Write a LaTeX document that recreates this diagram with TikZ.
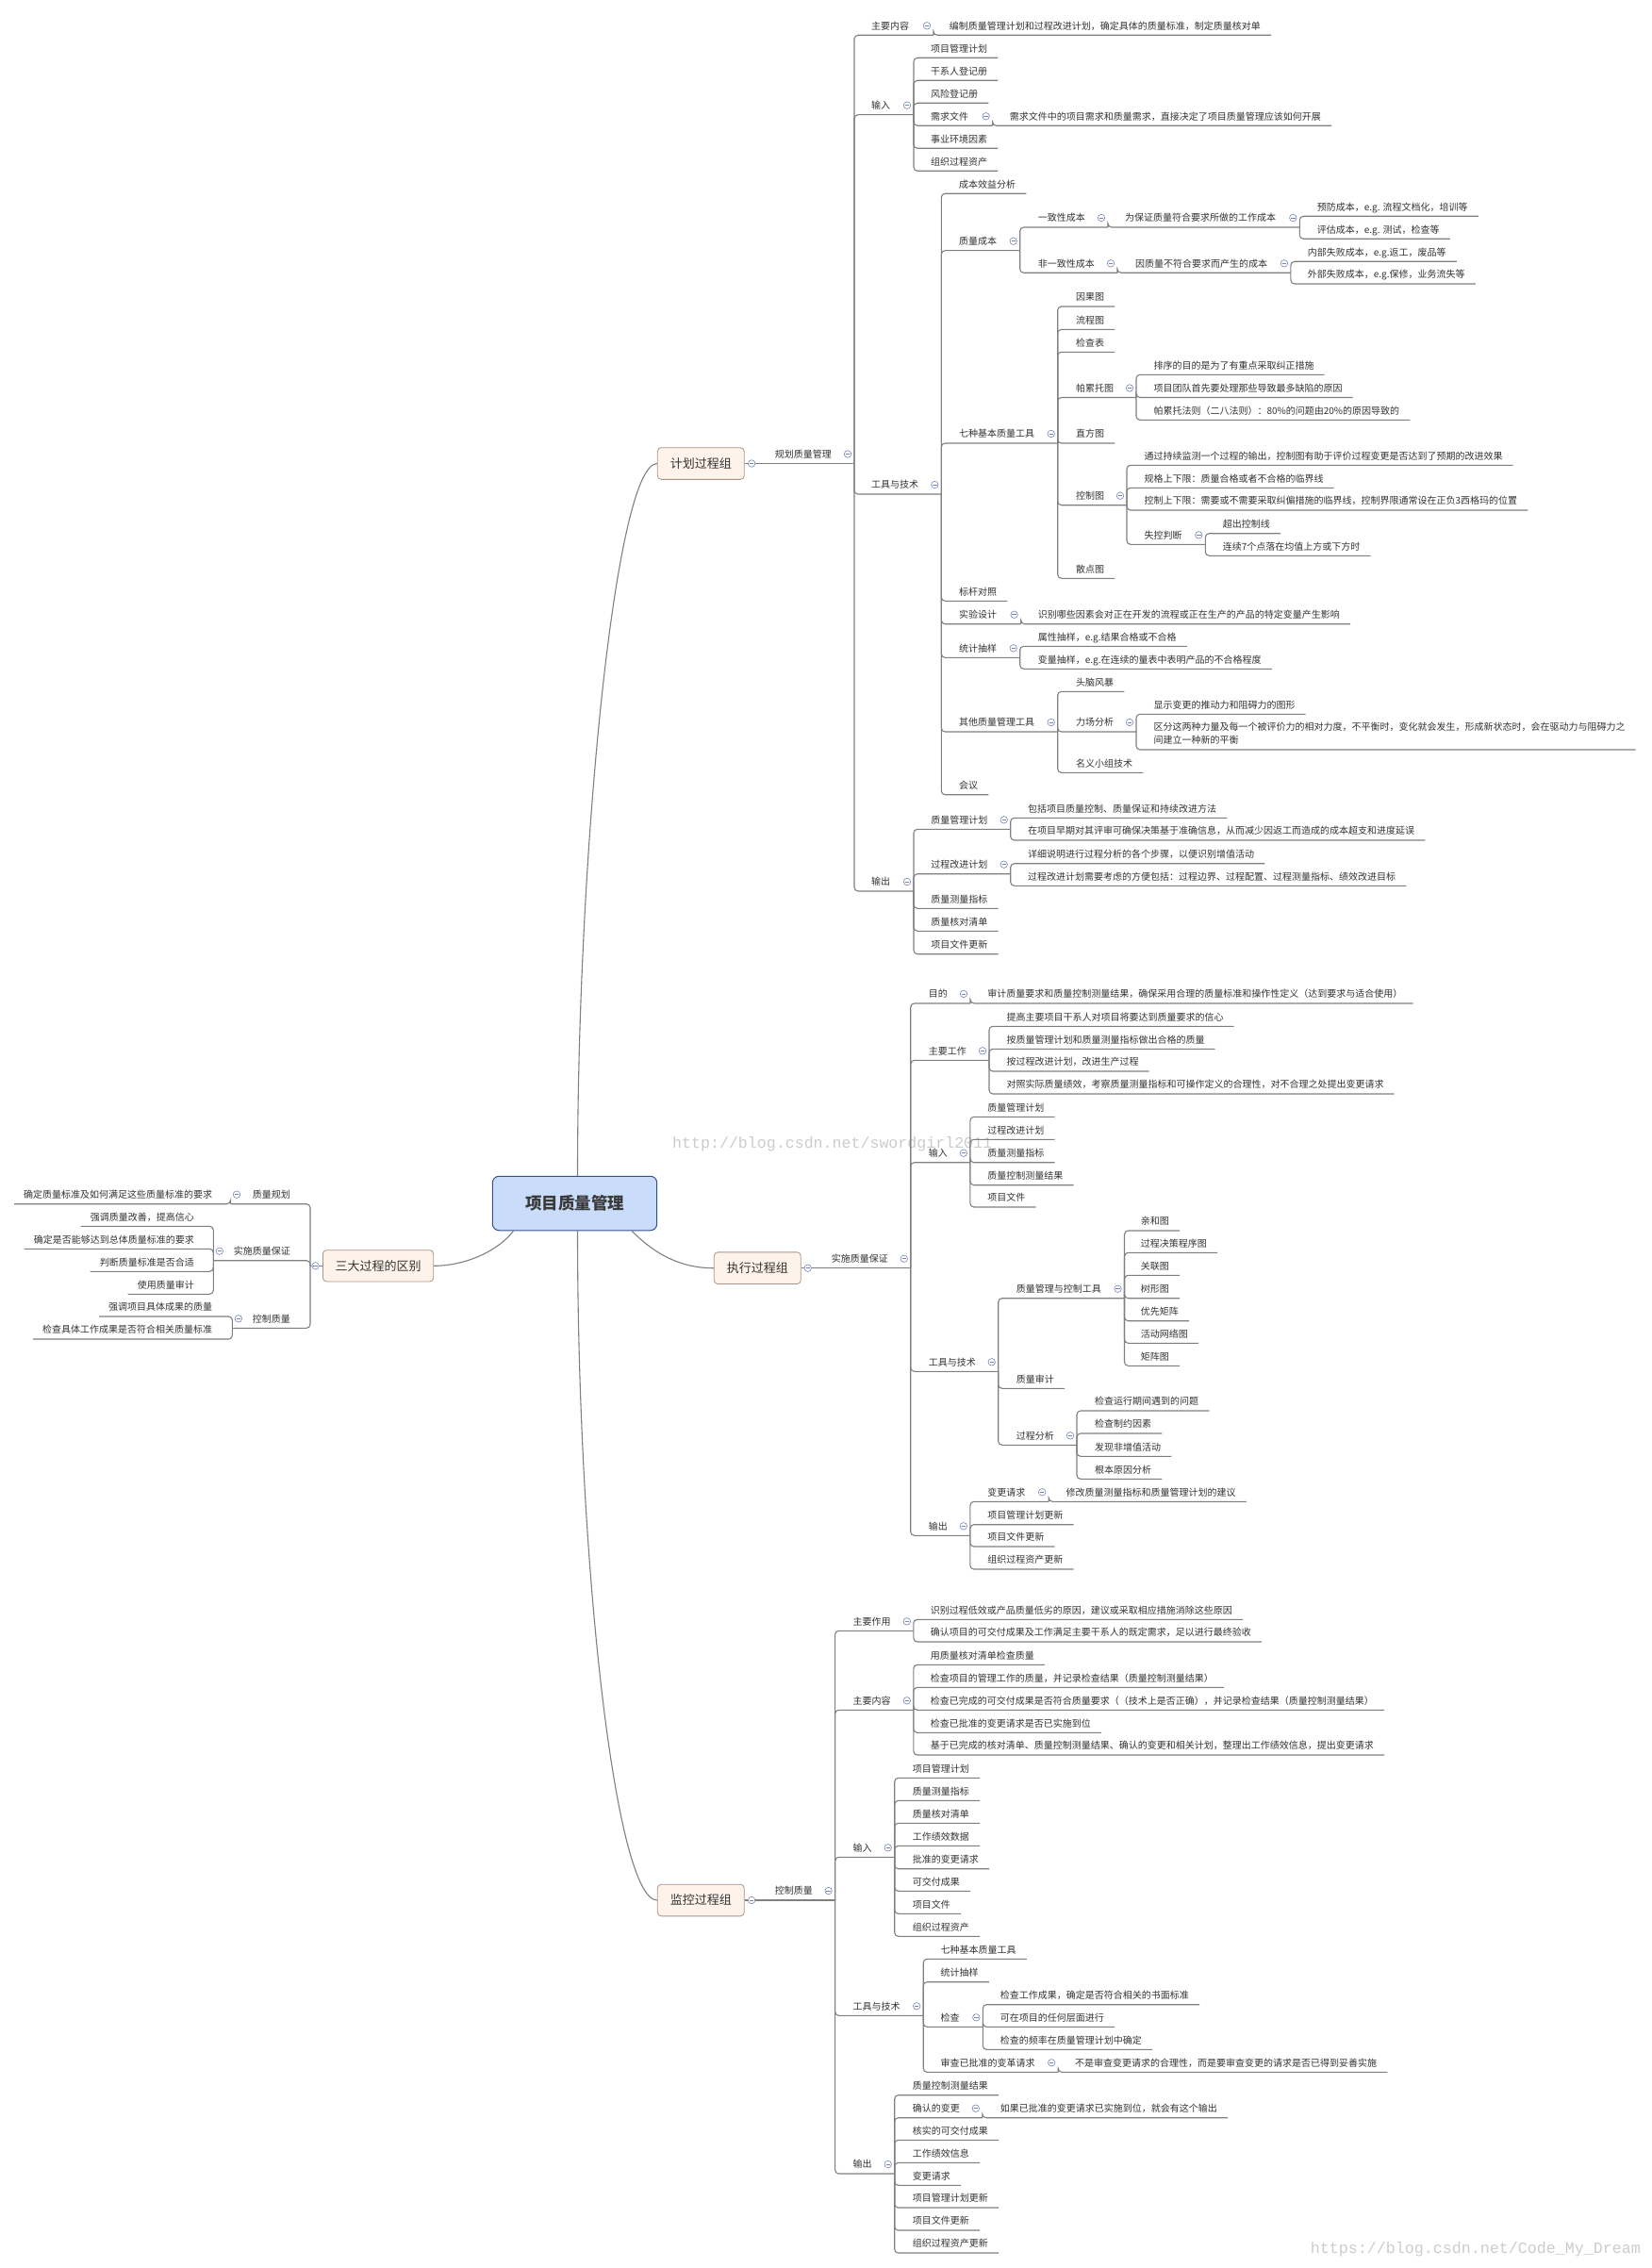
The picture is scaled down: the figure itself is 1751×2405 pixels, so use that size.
\documentclass[tikz,border=0pt]{standalone}
\usepackage{fontspec}
\setmainfont{Noto Sans CJK SC}
\newfontfamily\wmfont{Liberation Mono}
\definecolor{txt}{HTML}{333333}
\definecolor{txtb}{HTML}{3A3A3A}
\definecolor{lnc}{HTML}{808080}
\definecolor{colc}{HTML}{7283B8}
\definecolor{boxd}{HTML}{A8968A}
\definecolor{boxf}{HTML}{FEF3EA}
\definecolor{rootd}{HTML}{34508C}
\definecolor{rootf}{HTML}{C9DCFA}
\definecolor{wmc}{HTML}{CCCCCC}
\tikzset{
 tx/.style={anchor=base west, inner sep=0pt, yshift=6.2pt, font=\fontsize{10}{12}\selectfont, text=txt},
 txl/.style={tx, anchor=base east},
 cn/.style={draw=lnc, line width=1.1pt, rounded corners=4pt},
 cv/.style={draw=lnc, line width=1.1pt},
 col/.style={circle, draw=colc, fill=white, line width=0.6pt, minimum size=7.5pt, inner sep=0pt,
   path picture={\draw[colc, line width=0.6pt] ([xshift=-2.2pt]path picture bounding box.center) -- ([xshift=2.2pt]path picture bounding box.center);}},
 gbox/.style={draw=boxd, fill=boxf, rounded corners=4pt, line width=0.8pt, minimum width=92pt, minimum height=33.7pt, inner sep=0pt, font=\fontsize{13}{15}\selectfont, text=txt},
 rbox/.style={draw=rootd, fill=rootf, rounded corners=7pt, line width=1pt, minimum width=174.4pt, minimum height=57.5pt, inner sep=0pt, font=\bfseries\fontsize{17.5}{20}\selectfont, text=txtb},
 wm/.style={text=wmc, inner sep=0pt, anchor=west, font=\wmfont}
}
% right-side leaf: name, text x, underline y, text
\newcommand\Lf[4]{\node[tx] (#1) at (#2,#3) {#4};\coordinate (#1-e) at ([shift={(11pt,-6.2pt)}]#1.base east);}
% right-side parent: name, text x, underline y, spine x, text
\newcommand\Pn[5]{\node[tx] (#1) at (#2,#3) {#5};\coordinate (#1-e) at (#4,#3);\node[col] (#1-c) at (#4-7,#3-10) {};}
% left-side leaf and parent
\newcommand\LLf[4]{\node[txl] (#1) at (#2,#3) {#4};\coordinate (#1-e) at ([shift={(-10pt,-6.2pt)}]#1.base west);}
\newcommand\LPn[5]{\node[txl] (#1) at (#2,#3) {#5};\coordinate (#1-e) at (#4,#3);\node[col] (#1-c) at (#4+6.5,#3-10) {};}
\begin{document}
\begin{tikzpicture}[x=1pt,y=-1pt]
\useasboundingbox (0,0) rectangle (1751,2405);
\fill[white] (0,0) rectangle (1751,2405);
% watermarks
\node[wm] (wm1) at (713,1213) {\resizebox{339pt}{!}{http://blog.csdn.net/swordgirl2011}};
\node[wm] (wm2) at (1389.6,2385) {\resizebox{350pt}{!}{https://blog.csdn.net/Code\_My\_Dream}};
% central boxes
\node[rbox] (root) at (609.5,1276) {项目质量管理};
\node[gbox] (plan) at (743.3,491.5) {计划过程组};
\node[gbox] (exec) at (803.3,1344.7) {执行过程组};
\node[gbox] (mon) at (743.3,2015) {监控过程组};
\node[gbox, minimum width=117.4pt, minimum height=33.3pt] (sd) at (401.1,1342.3) {三大过程的区别};
\draw[cv] ([xshift=3pt]root.north) .. controls +(0,-348) and +(-44,0) .. (plan.west);
\draw[cv] ([xshift=3pt]root.south) .. controls +(0,356) and +(-44,0) .. (mon.west);
\draw[cv] ([xshift=60.5pt]root.south) .. controls +(20,20) and +(-40,0) .. (exec.west);
\draw[cv] ([xshift=-65pt]root.south) .. controls +(-15,20) and +(35,0) .. (sd.east);
% ===== planning =====
\Pn{gh}{821.7}{491.5}{906}{规划质量管理}
\Pn{zy}{924}{37.3}{990}{主要内容}
\Lf{zy1}{1006.7}{37.3}{编制质量管理计划和过程改进计划，确定具体的质量标准，制定质量核对单}
\Pn{sr}{924}{121.7}{969}{输入}
\Lf{sr1}{987}{61.3}{项目管理计划}
\Lf{sr2}{987}{85.3}{干系人登记册}
\Lf{sr3}{987}{109.3}{风险登记册}
\Pn{sr4}{987}{133.3}{1052.6}{需求文件}
\Lf{sr4a}{1070.6}{133.3}{需求文件中的项目需求和质量需求，直接决定了项目质量管理应该如何开展}
\Lf{sr5}{987}{157.3}{事业环境因素}
\Lf{sr6}{987}{181.3}{组织过程资产}
\Pn{gj}{924}{524}{998.3}{工具与技术}
\Lf{g1}{1017}{205.3}{成本效益分析}
\Pn{g2}{1017}{265.7}{1081.7}{质量成本}
\Pn{g2a}{1100.6}{241}{1175}{一致性成本}
\Pn{g2a1}{1192.8}{241}{1378.3}{为保证质量符合要求所做的工作成本}
\Lf{g2a1a}{1396.7}{229.3}{预防成本，e.g. 流程文档化，培训等}
\Lf{g2a1b}{1396.7}{253.3}{评估成本，e.g. 测试，检查等}
\Pn{g2b}{1100.6}{289.3}{1185}{非一致性成本}
\Pn{g2b1}{1203.9}{289.3}{1368.9}{因质量不符合要求而产生的成本}
\Lf{g2b1a}{1386.7}{277.3}{内部失败成本，e.g.返工，废品等}
\Lf{g2b1b}{1386.7}{301}{外部失败成本，e.g.保修，业务流失等}
\Pn{g3}{1017}{470}{1121.7}{七种基本质量工具}
\Lf{g3a}{1141}{325}{因果图}
\Lf{g3b}{1141}{349.3}{流程图}
\Lf{g3c}{1141}{373.3}{检查表}
\Pn{g3d}{1141}{421.5}{1205}{帕累托图}
\Lf{g3d1}{1223.3}{397.3}{排序的目的是为了有重点采取纠正措施}
\Lf{g3d2}{1223.3}{421.5}{项目团队首先要处理那些导致最多缺陷的原因}
\Lf{g3d3}{1223.3}{445.3}{帕累托法则（二八法则）：80\%的问题由20\%的原因导致的}
\Lf{g3e}{1141}{470}{直方图}
\Pn{g3f}{1141}{535.7}{1195}{控制图}
\Lf{g3f1}{1213.3}{493.3}{通过持续监测一个过程的输出，控制图有助于评价过程变更是否达到了预期的改进效果}
\Lf{g3f2}{1213.3}{517.3}{规格上下限：质量合格或者不合格的临界线}
\Lf{g3f3}{1213.3}{541}{控制上下限：需要或不需要采取纠偏措施的临界线，控制界限通常设在正负3西格玛的位置}
\Pn{g3f4}{1213.3}{577.3}{1278.3}{失控判断}
\Lf{g3f4a}{1296.7}{565.7}{超出控制线}
\Lf{g3f4b}{1296.7}{589.3}{连续7个点落在均值上方或下方时}
\Lf{g3g}{1141}{613.3}{散点图}
\Lf{g4}{1017}{637.3}{标杆对照}
\Pn{g5}{1017}{661.7}{1082.6}{实验设计}
\Lf{g5a}{1100.6}{661.7}{识别哪些因素会对正在开发的流程或正在生产的产品的特定变量产生影响}
\Pn{g6}{1017}{697.3}{1081.7}{统计抽样}
\Lf{g6a}{1100.6}{685.3}{属性抽样，e.g.结果合格或不合格}
\Lf{g6b}{1100.6}{709.3}{变量抽样，e.g.在连续的量表中表明产品的不合格程度}
\Pn{g7}{1017}{776}{1121.7}{其他质量管理工具}
\Lf{g7a}{1141}{733.3}{头脑风暴}
\Pn{g7b}{1141}{776}{1205}{力场分析}
\Lf{g7b1}{1223.3}{757.3}{显示变更的推动力和阻碍力的图形}
\node[tx] (g7b2x) at (1223.3,781) {区分这两种力量及每一个被评价力的相对力度，不平衡时，变化就会发生，形成新状态时，会在驱动力与阻碍力之};
\node[tx] (g7b2) at (1223.3,795) {间建立一种新的平衡};
\path (g7b2x.base east) ++(11pt,-20.2pt) coordinate (g7b2-e);
\Lf{g7c}{1141}{819.3}{名义小组技术}
\Lf{g8}{1017}{842.7}{会议}
\Pn{sc}{924}{945}{969}{输出}
\Pn{sc1}{987.2}{879.3}{1071.7}{质量管理计划}
\Lf{sc1a}{1090}{867.3}{包括项目质量控制、质量保证和持续改进方法}
\Lf{sc1b}{1090}{891}{在项目早期对其评审可确保决策基于准确信息，从而减少因返工而造成的成本超支和进度延误}
\Pn{sc2}{987.2}{926.7}{1071.7}{过程改进计划}
\Lf{sc2a}{1090}{915.7}{详细说明进行过程分析的各个步骤，以便识别增值活动}
\Lf{sc2b}{1090}{939.3}{过程改进计划需要考虑的方便包括：过程边界、过程配置、过程测量指标、绩效改进目标}
\Lf{sc3}{987.2}{963.3}{质量测量指标}
\Lf{sc4}{987.2}{987.3}{质量核对清单}
\Lf{sc5}{987.2}{1011.7}{项目文件更新}
% ===== executing =====
\Pn{ss}{881.7}{1344.7}{965.7}{实施质量保证}
\Pn{md}{984.7}{1064}{1029}{目的}
\Lf{md1}{1047.2}{1064}{审计质量要求和质量控制测量结果，确保采用合理的质量标准和操作性定义（达到要求与适合使用）}
\Pn{zg}{984.7}{1124.3}{1049}{主要工作}
\Lf{zg1}{1067.3}{1088.3}{提高主要项目干系人对项目将要达到质量要求的信心}
\Lf{zg2}{1067.3}{1112.3}{按质量管理计划和质量测量指标做出合格的质量}
\Lf{zg3}{1067.3}{1136}{按过程改进计划，改进生产过程}
\Lf{zg4}{1067.3}{1160}{对照实际质量绩效，考察质量测量指标和可操作定义的合理性，对不合理之处提出变更请求}
\Pn{ei}{984.7}{1232.7}{1028.9}{输入}
\Lf{ei1}{1047.2}{1184.3}{质量管理计划}
\Lf{ei2}{1047.2}{1208.3}{过程改进计划}
\Lf{ei3}{1047.2}{1232.7}{质量测量指标}
\Lf{ei4}{1047.2}{1256.7}{质量控制测量结果}
\Lf{ei5}{1047.2}{1280}{项目文件}
\Pn{et}{984.7}{1454.3}{1058.7}{工具与技术}
\Pn{et1}{1077.7}{1376.7}{1192.5}{质量管理与控制工具}
\Lf{et1a}{1209.7}{1305}{亲和图}
\Lf{et1b}{1209.7}{1328.3}{过程决策程序图}
\Lf{et1c}{1209.7}{1352.3}{关联图}
\Lf{et1d}{1209.7}{1376.7}{树形图}
\Lf{et1e}{1209.7}{1400.7}{优先矩阵}
\Lf{et1f}{1209.7}{1424.3}{活动网络图}
\Lf{et1g}{1209.7}{1448.3}{矩阵图}
\Lf{et2}{1077.7}{1472.3}{质量审计}
\Pn{et3}{1077.7}{1532.3}{1142}{过程分析}
\Lf{et3a}{1160.9}{1496}{检查运行期间遇到的问题}
\Lf{et3b}{1160.9}{1520}{检查制约因素}
\Lf{et3c}{1160.9}{1544.3}{发现非增值活动}
\Lf{et3d}{1160.9}{1568.3}{根本原因分析}
\Pn{eo}{984.7}{1628.3}{1028.9}{输出}
\Pn{eo1}{1047.2}{1592.3}{1112.2}{变更请求}
\Lf{eo1a}{1130.5}{1592.3}{修改质量测量指标和质量管理计划的建议}
\Lf{eo2}{1047.2}{1616.7}{项目管理计划更新}
\Lf{eo3}{1047.2}{1640}{项目文件更新}
\Lf{eo4}{1047.2}{1664}{组织过程资产更新}
% ===== monitoring =====
\Pn{kz}{821.7}{2015}{885.6}{控制质量}
\Pn{my}{904.5}{1729.3}{968.8}{主要作用}
\Lf{my1}{986.6}{1717.3}{识别过程低效或产品质量低劣的原因，建议或采取相应措施消除这些原因}
\Lf{my2}{986.6}{1741}{确认项目的可交付成果及工作满足主要干系人的既定需求，足以进行最终验收}
\Pn{mn}{904.5}{1813.3}{968.8}{主要内容}
\Lf{mn1}{986.6}{1765.3}{用质量核对清单检查质量}
\Lf{mn2}{986.6}{1789.3}{检查项目的管理工作的质量，并记录检查结果（质量控制测量结果）}
\Lf{mn3}{986.6}{1813.3}{检查已完成的可交付成果是否符合质量要求（（技术上是否正确），并记录检查结果（质量控制测量结果）}
\Lf{mn4}{986.6}{1837.3}{检查已批准的变更请求是否已实施到位}
\Lf{mn5}{986.6}{1861}{基于已完成的核对清单、质量控制测量结果、确认的变更和相关计划，整理出工作绩效信息，提出变更请求}
\Pn{mi}{904.5}{1969.3}{948.7}{输入}
\Lf{mi1}{967.7}{1885.3}{项目管理计划}
\Lf{mi2}{967.7}{1909.3}{质量测量指标}
\Lf{mi3}{967.7}{1933.3}{质量核对清单}
\Lf{mi4}{967.7}{1957.3}{工作绩效数据}
\Lf{mi5}{967.7}{1981.7}{批准的变更请求}
\Lf{mi6}{967.7}{2005.3}{可交付成果}
\Lf{mi7}{967.7}{2029.3}{项目文件}
\Lf{mi8}{967.7}{2053.3}{组织过程资产}
\Pn{mt}{904.5}{2137.3}{979.2}{工具与技术}
\Lf{mt1}{997.5}{2077.3}{七种基本质量工具}
\Lf{mt2}{997.5}{2101.7}{统计抽样}
\Pn{mt3}{997.5}{2149.3}{1042.3}{检查}
\Lf{mt3a}{1060.7}{2125.7}{检查工作成果，确定是否符合相关的书面标准}
\Lf{mt3b}{1060.7}{2149.3}{可在项目的任何层面进行}
\Lf{mt3c}{1060.7}{2173.3}{检查的频率在质量管理计划中确定}
\Pn{mt4}{997.5}{2197.3}{1122.2}{审查已批准的变革请求}
\Lf{mt4a}{1139.9}{2197.3}{不是审查变更请求的合理性，而是要审查变更的请求是否已得到妥善实施}
\Pn{mo}{904.5}{2305}{948.7}{输出}
\Lf{mo1}{967.7}{2221.7}{质量控制测量结果}
\Pn{mo2}{967.7}{2245.7}{1041.8}{确认的变更}
\Lf{mo2a}{1060.7}{2245.7}{如果已批准的变更请求已实施到位，就会有这个输出}
\Lf{mo3}{967.7}{2269.3}{核实的可交付成果}
\Lf{mo4}{967.7}{2293.3}{工作绩效信息}
\Lf{mo5}{967.7}{2317.3}{变更请求}
\Lf{mo6}{967.7}{2341}{项目管理计划更新}
\Lf{mo7}{967.7}{2365}{项目文件更新}
\Lf{mo8}{967.7}{2389}{组织过程资产更新}
% ===== left: differences =====
\coordinate (sd-e) at (329,1342.3);
\LPn{la}{308}{1276.7}{244.5}{质量规划}
\LLf{la1}{225.4}{1276.7}{确定质量标准及如何满足这些质量标准的要求}
\LPn{lb}{308}{1336.7}{226.3}{实施质量保证}
\LLf{lb1}{206}{1300.3}{强调质量改善，提高信心}
\LLf{lb2}{206}{1324.3}{确定是否能够达到总体质量标准的要求}
\LLf{lb3}{206}{1348.3}{判断质量标准是否合适}
\LLf{lb4}{206}{1372.3}{使用质量审计}
\LPn{lc}{308}{1408.3}{246.4}{控制质量}
\LLf{lc1}{225.4}{1396}{强调项目具体成果的质量}
\LLf{lc2}{225.4}{1420}{检查具体工作成果是否符合相关质量标准}
% ===== connectors =====
\draw[cn] (plan.east) -- (gh-e);
\draw[cn] (exec.east) -- (ss-e);
\draw[cn] (mon.east) -- (kz-e);
\draw[cn] (sd.west) -- (sd-e);
\foreach \p/\c in {gh/zy, gh/sr, gh/gj, gh/sc, zy/zy1,
  sr/sr1, sr/sr2, sr/sr3, sr/sr4, sr/sr5, sr/sr6, sr4/sr4a,
  gj/g1, gj/g2, gj/g3, gj/g4, gj/g5, gj/g6, gj/g7, gj/g8,
  g2/g2a, g2/g2b, g2a/g2a1, g2a1/g2a1a, g2a1/g2a1b, g2b/g2b1, g2b1/g2b1a, g2b1/g2b1b,
  g3/g3a, g3/g3b, g3/g3c, g3/g3d, g3/g3e, g3/g3f, g3/g3g,
  g3d/g3d1, g3d/g3d2, g3d/g3d3, g3f/g3f1, g3f/g3f2, g3f/g3f3, g3f/g3f4, g3f4/g3f4a, g3f4/g3f4b,
  g5/g5a, g6/g6a, g6/g6b, g7/g7a, g7/g7b, g7/g7c, g7b/g7b1, g7b/g7b2,
  sc/sc1, sc/sc2, sc/sc3, sc/sc4, sc/sc5, sc1/sc1a, sc1/sc1b, sc2/sc2a, sc2/sc2b,
  ss/md, ss/zg, ss/ei, ss/et, ss/eo, md/md1,
  zg/zg1, zg/zg2, zg/zg3, zg/zg4, ei/ei1, ei/ei2, ei/ei3, ei/ei4, ei/ei5,
  et/et1, et/et2, et/et3, et1/et1a, et1/et1b, et1/et1c, et1/et1d, et1/et1e, et1/et1f, et1/et1g,
  et3/et3a, et3/et3b, et3/et3c, et3/et3d, eo/eo1, eo/eo2, eo/eo3, eo/eo4, eo1/eo1a,
  kz/my, kz/mn, kz/mi, kz/mt, kz/mo, my/my1, my/my2,
  mn/mn1, mn/mn2, mn/mn3, mn/mn4, mn/mn5,
  mi/mi1, mi/mi2, mi/mi3, mi/mi4, mi/mi5, mi/mi6, mi/mi7, mi/mi8,
  mt/mt1, mt/mt2, mt/mt3, mt/mt4, mt3/mt3a, mt3/mt3b, mt3/mt3c, mt4/mt4a,
  mo/mo1, mo/mo2, mo/mo3, mo/mo4, mo/mo5, mo/mo6, mo/mo7, mo/mo8, mo2/mo2a,
  sd/la, sd/lb, sd/lc, la/la1, lb/lb1, lb/lb2, lb/lb3, lb/lb4, lc/lc1, lc/lc2}
  \draw[cn] (\p-e) |- (\c-e);
% box collapse marks
\node[col] at ([xshift=7.4pt]plan.east) {};
\node[col] at ([xshift=7pt]exec.east) {};
\node[col] at ([xshift=7.4pt]mon.east) {};
\node[col] at ([xshift=-7.4pt]sd.west) {};
\end{tikzpicture}
\end{document}
